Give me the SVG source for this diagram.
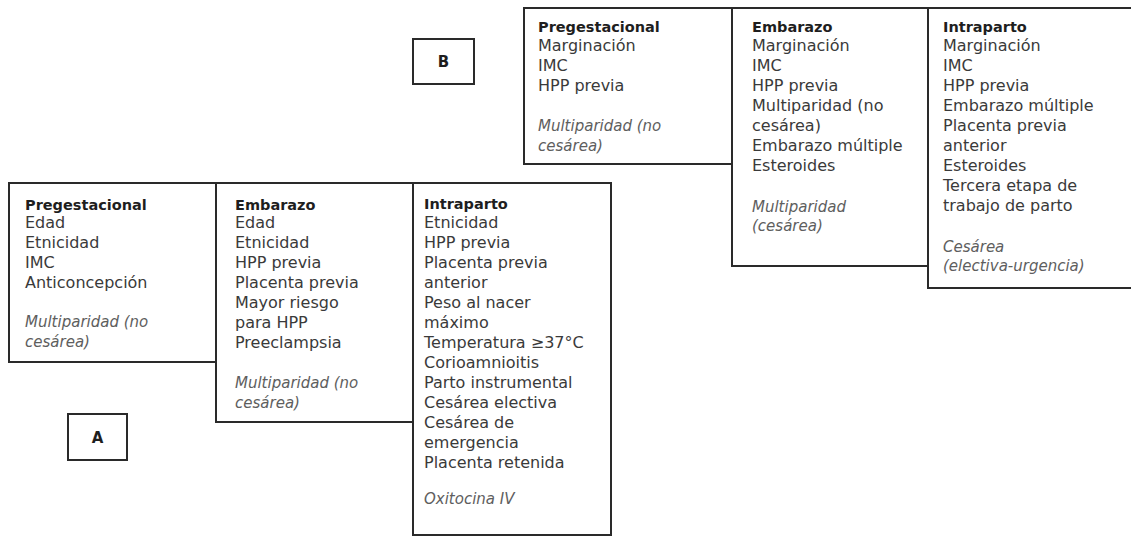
<svg xmlns="http://www.w3.org/2000/svg" width="1131" height="537" viewBox="0 0 1131 537">
<style>
.box{fill:#fff;stroke:#2a2a2a;stroke-width:2}
text{font-family:"DejaVu Sans","Liberation Sans",sans-serif;font-size:16px;fill:#3a3a3a}
.h{font-weight:bold;font-size:14.5px;fill:#1e1e1e}
.i{font-style:italic;font-size:15px;fill:#5e5e5e}
.lbl{font-weight:bold;font-size:15px;fill:#1e1e1e;text-anchor:middle}
</style>
<rect width="1131" height="537" fill="#fff"/>
<g id="connectors"></g>

<g id="labelA">
<rect class="box" x="68" y="414" width="59" height="46"/>
<text class="lbl" x="97.5" y="443">A</text>
</g>
<g id="labelB">
<rect class="box" x="413" y="39" width="61" height="45"/>
<text class="lbl" x="443.5" y="67">B</text>
</g>

<g id="A-intraparto">
<rect class="box" x="413" y="183" width="198" height="352"/>
<text class="h" x="424" y="209">Intraparto</text>
<text x="424" y="228">Etnicidad</text>
<text x="424" y="248">HPP previa</text>
<text x="424" y="268">Placenta previa</text>
<text x="424" y="288">anterior</text>
<text x="424" y="308">Peso al nacer</text>
<text x="424" y="328">máximo</text>
<text x="424" y="348">Temperatura ≥37°C</text>
<text x="424" y="368">Corioamnioitis</text>
<text x="424" y="388">Parto instrumental</text>
<text x="424" y="408">Cesárea electiva</text>
<text x="424" y="428">Cesárea de</text>
<text x="424" y="448">emergencia</text>
<text x="424" y="468">Placenta retenida</text>
<text class="i" x="424" y="504">Oxitocina IV</text>
</g>

<g id="A-embarazo">
<rect class="box" x="216" y="183" width="197" height="239"/>
<text class="h" x="235" y="210">Embarazo</text>
<text x="235" y="228">Edad</text>
<text x="235" y="248">Etnicidad</text>
<text x="235" y="268">HPP previa</text>
<text x="235" y="288">Placenta previa</text>
<text x="235" y="308">Mayor riesgo</text>
<text x="235" y="328">para HPP</text>
<text x="235" y="348">Preeclampsia</text>
<text class="i" x="235" y="388">Multiparidad (no</text>
<text class="i" x="235" y="408">cesárea)</text>
</g>

<g id="A-pregestacional">
<rect class="box" x="9" y="183" width="207" height="179"/>
<text class="h" x="25" y="210">Pregestacional</text>
<text x="25" y="228">Edad</text>
<text x="25" y="248">Etnicidad</text>
<text x="25" y="268">IMC</text>
<text x="25" y="288">Anticoncepción</text>
<text class="i" x="25" y="327">Multiparidad (no</text>
<text class="i" x="25" y="347">cesárea)</text>
</g>

<g id="B-intraparto">
<rect class="box" x="928" y="8" width="220" height="280"/>
<text class="h" x="943" y="32">Intraparto</text>
<text x="943" y="51">Marginación</text>
<text x="943" y="71">IMC</text>
<text x="943" y="91">HPP previa</text>
<text x="943" y="111">Embarazo múltiple</text>
<text x="943" y="131">Placenta previa</text>
<text x="943" y="151">anterior</text>
<text x="943" y="171">Esteroides</text>
<text x="943" y="191">Tercera etapa de</text>
<text x="943" y="211">trabajo de parto</text>
<text class="i" x="943" y="252">Cesárea</text>
<text class="i" x="943" y="271">(electiva-urgencia)</text>
</g>

<g id="B-embarazo">
<rect class="box" x="732" y="8" width="196" height="258"/>
<text class="h" x="752" y="32">Embarazo</text>
<text x="752" y="51">Marginación</text>
<text x="752" y="71">IMC</text>
<text x="752" y="91">HPP previa</text>
<text x="752" y="111">Multiparidad (no</text>
<text x="752" y="131">cesárea)</text>
<text x="752" y="151">Embarazo múltiple</text>
<text x="752" y="171">Esteroides</text>
<text class="i" x="752" y="212">Multiparidad</text>
<text class="i" x="752" y="231">(cesárea)</text>
</g>

<g id="B-pregestacional">
<rect class="box" x="524" y="8" width="208" height="156"/>
<text class="h" x="538" y="32">Pregestacional</text>
<text x="538" y="51">Marginación</text>
<text x="538" y="71">IMC</text>
<text x="538" y="91">HPP previa</text>
<text class="i" x="538" y="131">Multiparidad (no</text>
<text class="i" x="538" y="151">cesárea)</text>
</g>
</svg>
